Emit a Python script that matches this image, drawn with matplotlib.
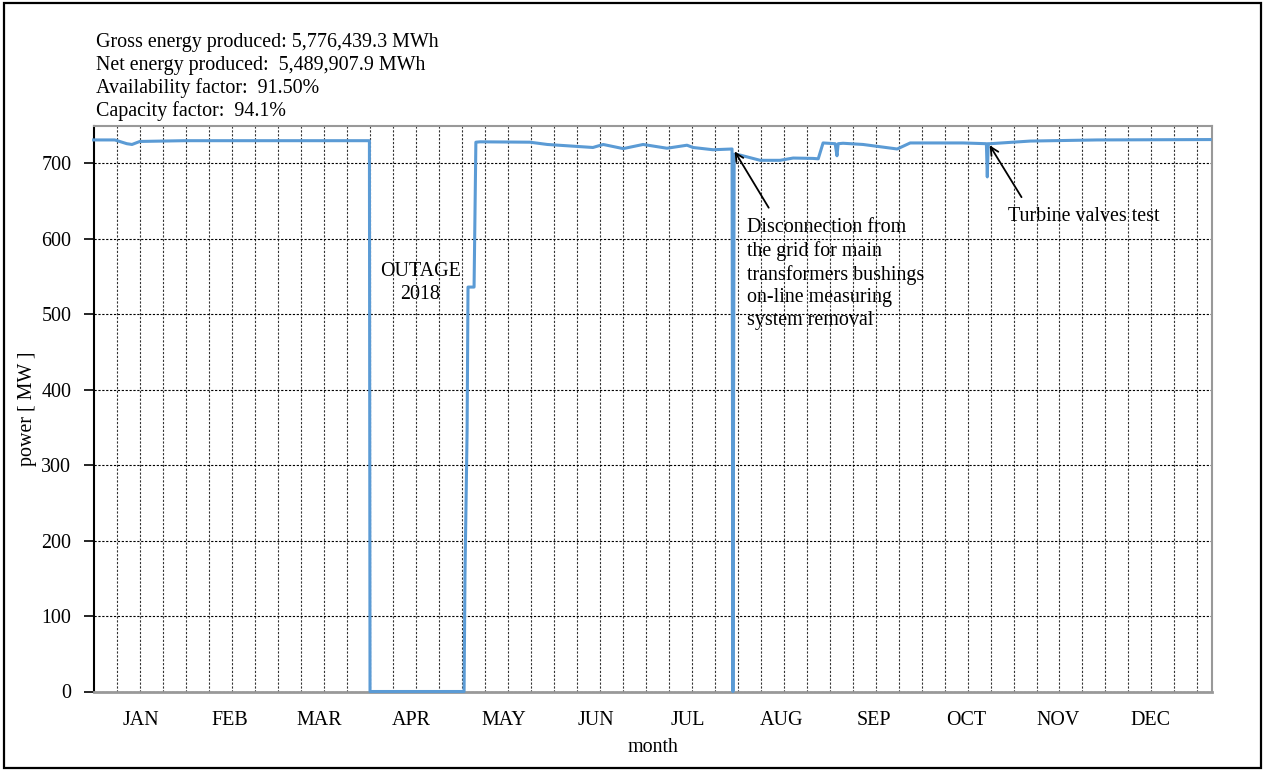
import matplotlib
matplotlib.use('Agg')
import matplotlib.pyplot as plt
from matplotlib.patches import Rectangle

days = [0, 7, 11, 12.7, 15.3, 30, 50, 70, 91.2, 91.4,
        122.5, 122.8, 123.5, 123.8, 125.8, 126.4, 127.8, 144.3, 150, 165.1,
        168.5, 175.1, 181.7, 189.6, 196.2, 198.2, 204.8, 211.1, 211.4, 211.8,
        213.7, 220.4, 227, 231.3, 237.9, 239.6, 241.2, 245.2, 245.8, 246.2,
        247.8, 254.4, 265.7, 270, 287.5, 295.2, 295.5, 295.8, 296.4, 309.7,
        331.8, 369.2]
power = [731, 731, 726, 725, 729, 730, 730, 730, 730, 0,
         0, 156, 346, 536, 536, 728, 728.5, 728, 725, 721,
         725, 719.5, 725, 720, 724, 721, 718, 719, 0, 712,
         711, 704, 704, 707, 706.5, 706, 727, 726, 710, 726,
         726.6, 725, 719, 727, 727, 726, 682, 726, 726, 729.5,
         731, 731.5]

months = ['JAN', 'FEB', 'MAR', 'APR', 'MAY', 'JUN', 'JUL', 'AUG', 'SEP', 'OCT', 'NOV', 'DEC']
month_days = [31, 28, 31, 30, 31, 30, 31, 31, 30, 31, 30, 31]

header = ["Gross energy produced: 5,776,439.3 MWh",
          "Net energy produced:  5,489,907.9 MWh",
          "Availability factor:  91.50%",
          "Capacity factor:  94.1%"]

plt.rcParams['font.family'] = ['Liberation Serif', 'DejaVu Serif']
plt.rcParams['font.size'] = 14.4

W, H = 1265, 771
fig = plt.figure(figsize=(W / 100, H / 100), dpi=100)
ax = fig.add_axes([93.6 / W, 1 - 691.5 / H, (1212 - 93.6) / W, (691.5 - 125.6) / H])

# outer frame
fig.patches.append(Rectangle((4 / W, 3 / H), (1261 - 4) / W, (768 - 3) / H,
                             transform=fig.transFigure, fill=False,
                             edgecolor='black', linewidth=1.6))

ax.plot(days, power, color='#5B9BD5', linewidth=2.2, clip_on=False, zorder=5)

ax.set_xlim(0, 369.8)
ax.set_ylim(0, 750)

# month labels at mid-month
mids = []
start = 0
for d in month_days:
    mids.append(start + d / 2)
    start += d
ax.set_xticks(mids)
ax.set_xticklabels(months)
ax.set_xticks([k * 365 / 48 for k in range(1, 49)], minor=True)
ax.tick_params(axis='x', which='both', length=0, pad=14)
ax.set_yticks(range(0, 800, 100))
ax.tick_params(axis='y', direction='out', length=7, width=1.2, pad=9)

ax.grid(axis='y', which='major', color='black', linestyle=(0, (2, 1.5)), linewidth=0.8)
ax.grid(axis='x', which='minor', color='#333333', linestyle=(0, (2, 1.5)), linewidth=0.8)
ax.set_axisbelow(True)

for s in ['top', 'right', 'bottom']:
    ax.spines[s].set_color('#999999')
    ax.spines[s].set_linewidth(1.5)
ax.spines['bottom'].set_linewidth(2)
ax.spines['left'].set_color('black')
ax.spines['left'].set_linewidth(1.5)

ax.set_xlabel('month', labelpad=6)
ax.set_ylabel('power [ MW ]', labelpad=3)

# header block
for i, line in enumerate(header):
    fig.text(96 / W, 1 - (47 + 23 * i) / H, line, ha='left', va='baseline')

ax.text(108, 541, 'OUTAGE\n2018', ha='center', va='center', linespacing=1.3)

ax.annotate('', xy=(211.5, 719), xytext=(223.7, 638),
            arrowprops=dict(arrowstyle='->', color='black', lw=1.3), zorder=6)
ax.text(216, 627, 'Disconnection from\nthe grid for main\ntransformers bushings\non-line measuring\nsystem removal',
        ha='left', va='top', linespacing=1.25, zorder=6)

ax.annotate('', xy=(295.8, 727), xytext=(307.3, 652),
            arrowprops=dict(arrowstyle='->', color='black', lw=1.3), zorder=6)
ax.text(302.4, 630, 'Turbine valves test', ha='left', va='center', zorder=6)

fig.savefig('out.png', dpi=100)
